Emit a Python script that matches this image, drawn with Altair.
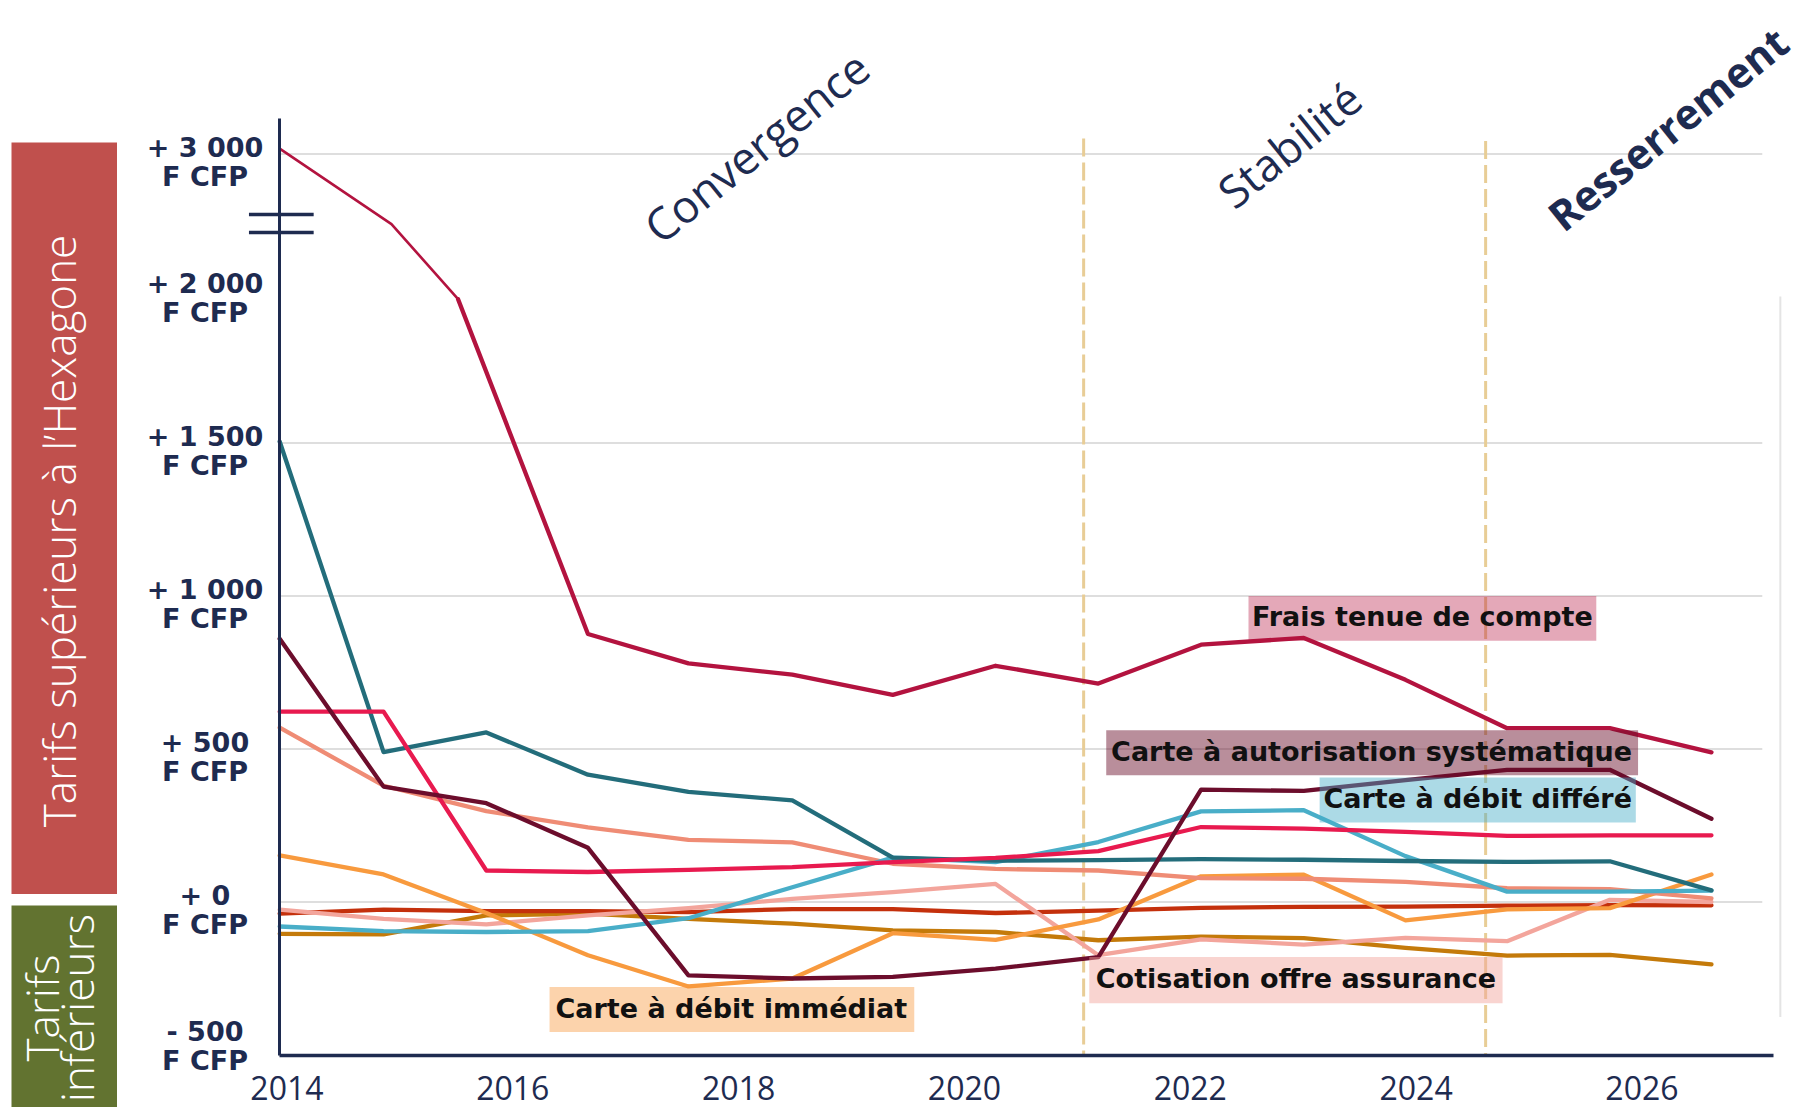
import altair as alt
import pandas as pd

# ---------------- values ----------------
# x position (in years) of every point of the curves
periods = [2013.94, 2014.86, 2015.77, 2016.67, 2017.56, 2018.48, 2019.37, 2020.28,
           2021.19, 2022.10, 2023.01, 2023.91, 2024.81, 2025.72, 2026.62]
periods_frais = [2013.94, 2014.93, 2015.52, 2016.67, 2017.56, 2018.48, 2019.37, 2020.28,
                 2021.19, 2022.10, 2023.01, 2023.91, 2024.81, 2025.72, 2026.62]

# écart de tarif avec l'Hexagone (F CFP)
frais_tenue_compte = [3040, 2485, 1970, 876, 780, 743, 677, 772, 714, 841, 863, 726, 568, 568, 489]
carte_autorisation = [860, 377, 323, 177, -240, -250, -245, -218, -180, 367, 363, 398, 432, 432, 272]
carte_debit_differe = [-80, -95, -98, -95, -53, 48, 145, 130, 196, 296, 300, 150, 34, 34, 37]
serie_rose = [622, 622, 103, 98, 105, 114, 130, 144, 166, 245, 240, 229, 216, 218, 218]
serie_petrole = [1505, 490, 554, 416, 360, 332, 145, 135, 137, 140, 138, 134, 131, 133, 38]
serie_saumon = [570, 380, 297, 244, 203, 195, 125, 108, 103, 78, 76, 66, 45, 42, 12]
carte_debit_immediat = [152, 90, -36, -174, -276, -250, -102, -124, -57, 84, 89, -60, -24, -20, 90]
serie_brique = [-38, -25, -30, -30, -33, -23, -23, -36, -28, -19, -16, -15, -12, -10, -11]
cotisation_assurance = [-25, -55, -73, -44, -20, 10, 32, 59, -174, -122, -139, -117, -128, 7, 0]
serie_ocre = [-104, -106, -44, -38, -55, -71, -93, -98, -125, -113, -118, -150, -175, -173, -204]

x_tick_years = [2014, 2016, 2018, 2020, 2022, 2024, 2026]
y_tick_values = [3000, 2000, 1500, 1000, 500, 0, -500]
y_tick_labels = ["+ 3 000\nF CFP", "+ 2 000\nF CFP", "+ 1 500\nF CFP", "+ 1 000\nF CFP",
                 "+ 500\nF CFP", "+ 0\nF CFP", "- 500\nF CFP"]
grid_values = [3000, 1500, 1000, 500, 0]
phase_breaks = [2021.06, 2024.62]
phase_names = ["Convergence", "Stabilité", "Resserrement"]
band_top = "Tarifs supérieurs à l’Hexagone"
band_bottom = "Tarifs\ninférieurs"

# ---------------- styling ----------------
NAVY = "#1E2B50"
FONT = "Open Sans"
LABEL_FONT = "DejaVu Sans"
X0, X1 = 2013.934, 2027.165
Y_BOTTOM, Y_BREAK, Y_TOP = -500, 2000, 3265
xs = alt.Scale(domain=[X0, X1], nice=False, zero=False)
ys = alt.Scale(domain=[Y_BOTTOM, Y_BREAK, Y_TOP], range=[937, 172, 0], nice=False, zero=False)

x_axis = alt.Axis(values=x_tick_years, format="d", labelFontSize=32, labelFont=FONT,
                  labelColor=NAVY, labelPadding=19, ticks=False, grid=False,
                  domainColor=NAVY, domainWidth=3.5, title=None, labelFlush=False,
                  labelOverlap=False, zindex=1)
y_axis = alt.Axis(labels=False, ticks=False, grid=False, domainColor=NAVY,
                  domainWidth=3, title=None, zindex=1)


def X(field):
    return alt.X(field, scale=xs, axis=x_axis)


def Y(field):
    return alt.Y(field, scale=ys, axis=y_axis)


LW = 4.3
series = [
    ("ocre", periods, serie_ocre, "#C47A0A"),
    ("brique", periods, serie_brique, "#C4300C"),
    ("Cotisation offre assurance", periods, cotisation_assurance, "#F3A59C"),
    ("Carte à débit immédiat", periods, carte_debit_immediat, "#F89A3E"),
    ("saumon", periods, serie_saumon, "#EF8C75"),
    ("Carte à débit différé", periods, carte_debit_differe, "#49AEC8"),
    ("petrole", periods, serie_petrole, "#236D7B"),
    ("rose", periods, serie_rose, "#E81A4F"),
    ("Carte à autorisation systématique", periods, carte_autorisation, "#6C0D2C"),
]

layers = []

# grid lines
df_grid = pd.DataFrame({"v": grid_values, "x0": X0, "x1": 2027.07})
layers.append(
    alt.Chart(df_grid).mark_rule(color="#DEDEDE", strokeWidth=2).encode(
        x=X("x0:Q"), x2="x1:Q", y=Y("v:Q"))
)

# faint vertical line on the right
df_rv = pd.DataFrame({"x": [2027.23], "y": [1979], "y2": [-376]})
layers.append(
    alt.Chart(df_rv).mark_rule(color="#E4E4E4", strokeWidth=2).encode(
        x=X("x:Q"), y=Y("y:Q"), y2="y2:Q")
)

# phase separators
df_dash = pd.DataFrame({"x": phase_breaks, "top": [3115, 3095], "bot": [Y_BOTTOM, Y_BOTTOM]})
layers.append(
    alt.Chart(df_dash).mark_rule(color="#E8CD96", strokeWidth=3, strokeDash=[18, 6]).encode(
        x=X("x:Q"), y=Y("top:Q"), y2="bot:Q")
)

# curves
for name, xx, vals, col in series:
    d = pd.DataFrame({"annee": xx, "ecart": vals, "serie": name})
    layers.append(
        alt.Chart(d).mark_line(color=col, strokeWidth=LW, strokeCap="round",
                               strokeJoin="round").encode(x=X("annee:Q"), y=Y("ecart:Q"))
    )

d_fr = pd.DataFrame({"annee": periods_frais, "ecart": frais_tenue_compte,
                     "serie": "Frais tenue de compte"})
layers.append(
    alt.Chart(d_fr.iloc[:3]).mark_line(color="#B3133F", strokeWidth=2.6,
                                       strokeJoin="round").encode(x=X("annee:Q"), y=Y("ecart:Q"))
)
layers.append(
    alt.Chart(d_fr.iloc[2:]).mark_line(color="#B3133F", strokeWidth=LW, strokeCap="round",
                                       strokeJoin="round").encode(x=X("annee:Q"), y=Y("ecart:Q"))
)

# axis break marks
df_brk = pd.DataFrame({"x0": [2013.668, 2013.668], "x1": [2014.241, 2014.241], "v": [2555, 2423]})
layers.append(
    alt.Chart(df_brk).mark_rule(color=NAVY, strokeWidth=3.5).encode(
        x=X("x0:Q"), x2="x1:Q", y=Y("v:Q"))
)

# label boxes
df_box = pd.DataFrame({
    "x": [2022.52, 2021.26, 2023.15, 2021.11, 2016.33],
    "x2": [2025.60, 2025.97, 2025.95, 2024.77, 2019.56],
    "y": [854, 414, 260, -331, -425],
    "y2": [1000, 561, 407, -180, -278],
    "fill": ["#B5123F", "#6B0F2B", "#48ADC7", "#F3A39C", "#F7953A"],
    "op": [0.37, 0.47, 0.45, 0.47, 0.42],
})
layers.append(
    alt.Chart(df_box).mark_rect().encode(
        x=X("x:Q"), x2="x2:Q", y=Y("y:Q"), y2="y2:Q",
        color=alt.Color("fill:N", scale=None), opacity=alt.Opacity("op:Q", scale=None))
)
df_lab = pd.DataFrame({
    "x": [2024.06, 2023.61, 2024.55, 2022.94, 2017.94],
    "y": [927, 487, 334, -255, -352],
    "t": ["Frais tenue de compte", "Carte à autorisation systématique", "Carte à débit différé",
          "Cotisation offre assurance", "Carte à débit immédiat"],
})
layers.append(
    alt.Chart(df_lab).mark_text(font=LABEL_FONT, fontSize=27, fontWeight="bold", color="#111111",
                                align="center", baseline="middle").encode(
        x=X("x:Q"), y=Y("y:Q"), text="t:N")
)

# phase titles
df_ph = pd.DataFrame({"x": [2018.18, 2022.90, 2026.25], "y": [3036, 3051, 3170], "t": phase_names})
layers.append(
    alt.Chart(df_ph.iloc[:2]).mark_text(font=FONT, fontSize=45, fontWeight=400, color=NAVY,
                                        angle=321, align="center", baseline="middle").encode(
        x=X("x:Q"), y=Y("y:Q"), text="t:N")
)
layers.append(
    alt.Chart(df_ph.iloc[2:]).mark_text(font=FONT, fontSize=42, fontWeight="bold", color=NAVY,
                                        angle=321, align="center", baseline="middle").encode(
        x=X("x:Q"), y=Y("y:Q"), text="t:N")
)

# y tick labels (the lowest one sits a little higher, above the x axis)
df_yt = pd.DataFrame({"v": y_tick_values, "t": y_tick_labels})
ytext = dict(font=LABEL_FONT, fontSize=27, fontWeight="bold", color=NAVY,
             align="center", baseline="middle", lineBreak="\n", lineHeight=29)
layers.append(
    alt.Chart(df_yt).transform_filter("datum.v >= 0").mark_text(dy=-5, **ytext).encode(
        x=alt.value(-74), y=Y("v:Q"), text="t:N")
)
layers.append(
    alt.Chart(df_yt).transform_filter("datum.v < 0").mark_text(dy=-22, **ytext).encode(
        x=alt.value(-74), y=Y("v:Q"), text="t:N")
)

# left coloured bands
one = pd.DataFrame({"k": [0]})
layers.append(
    alt.Chart(one).mark_rect(color="#C0504D").encode(
        x=alt.value(-267.5), x2=alt.value(-162), y=alt.value(24.5), y2=alt.value(776))
)
layers.append(
    alt.Chart(one).mark_rect(color="#627330").encode(
        x=alt.value(-267.5), x2=alt.value(-162), y=alt.value(787.6), y2=alt.value(995))
)
layers.append(
    alt.Chart(pd.DataFrame({"t": [band_top]})).mark_text(
        font=FONT, fontSize=44, fontWeight=300, color="white", angle=270,
        align="center", baseline="middle").encode(
        x=alt.value(-216), y=alt.value(413), text="t:N")
)
layers.append(
    alt.Chart(pd.DataFrame({"t": [band_bottom]})).mark_text(
        font=FONT, fontSize=44, fontWeight=300, color="white", angle=270,
        align="center", baseline="middle", lineBreak="\n", lineHeight=35).encode(
        x=alt.value(-233), y=alt.value(890), text="t:N")
)

chart = alt.layer(*layers).properties(
    width=1494, height=937,
    autosize=alt.AutoSizeParams(type="none"),
    padding={"left": 271, "top": 110, "right": 21, "bottom": 52},
).configure_view(stroke=None)

chart.save("out.html", embed_options={"renderer": "svg", "actions": False})
